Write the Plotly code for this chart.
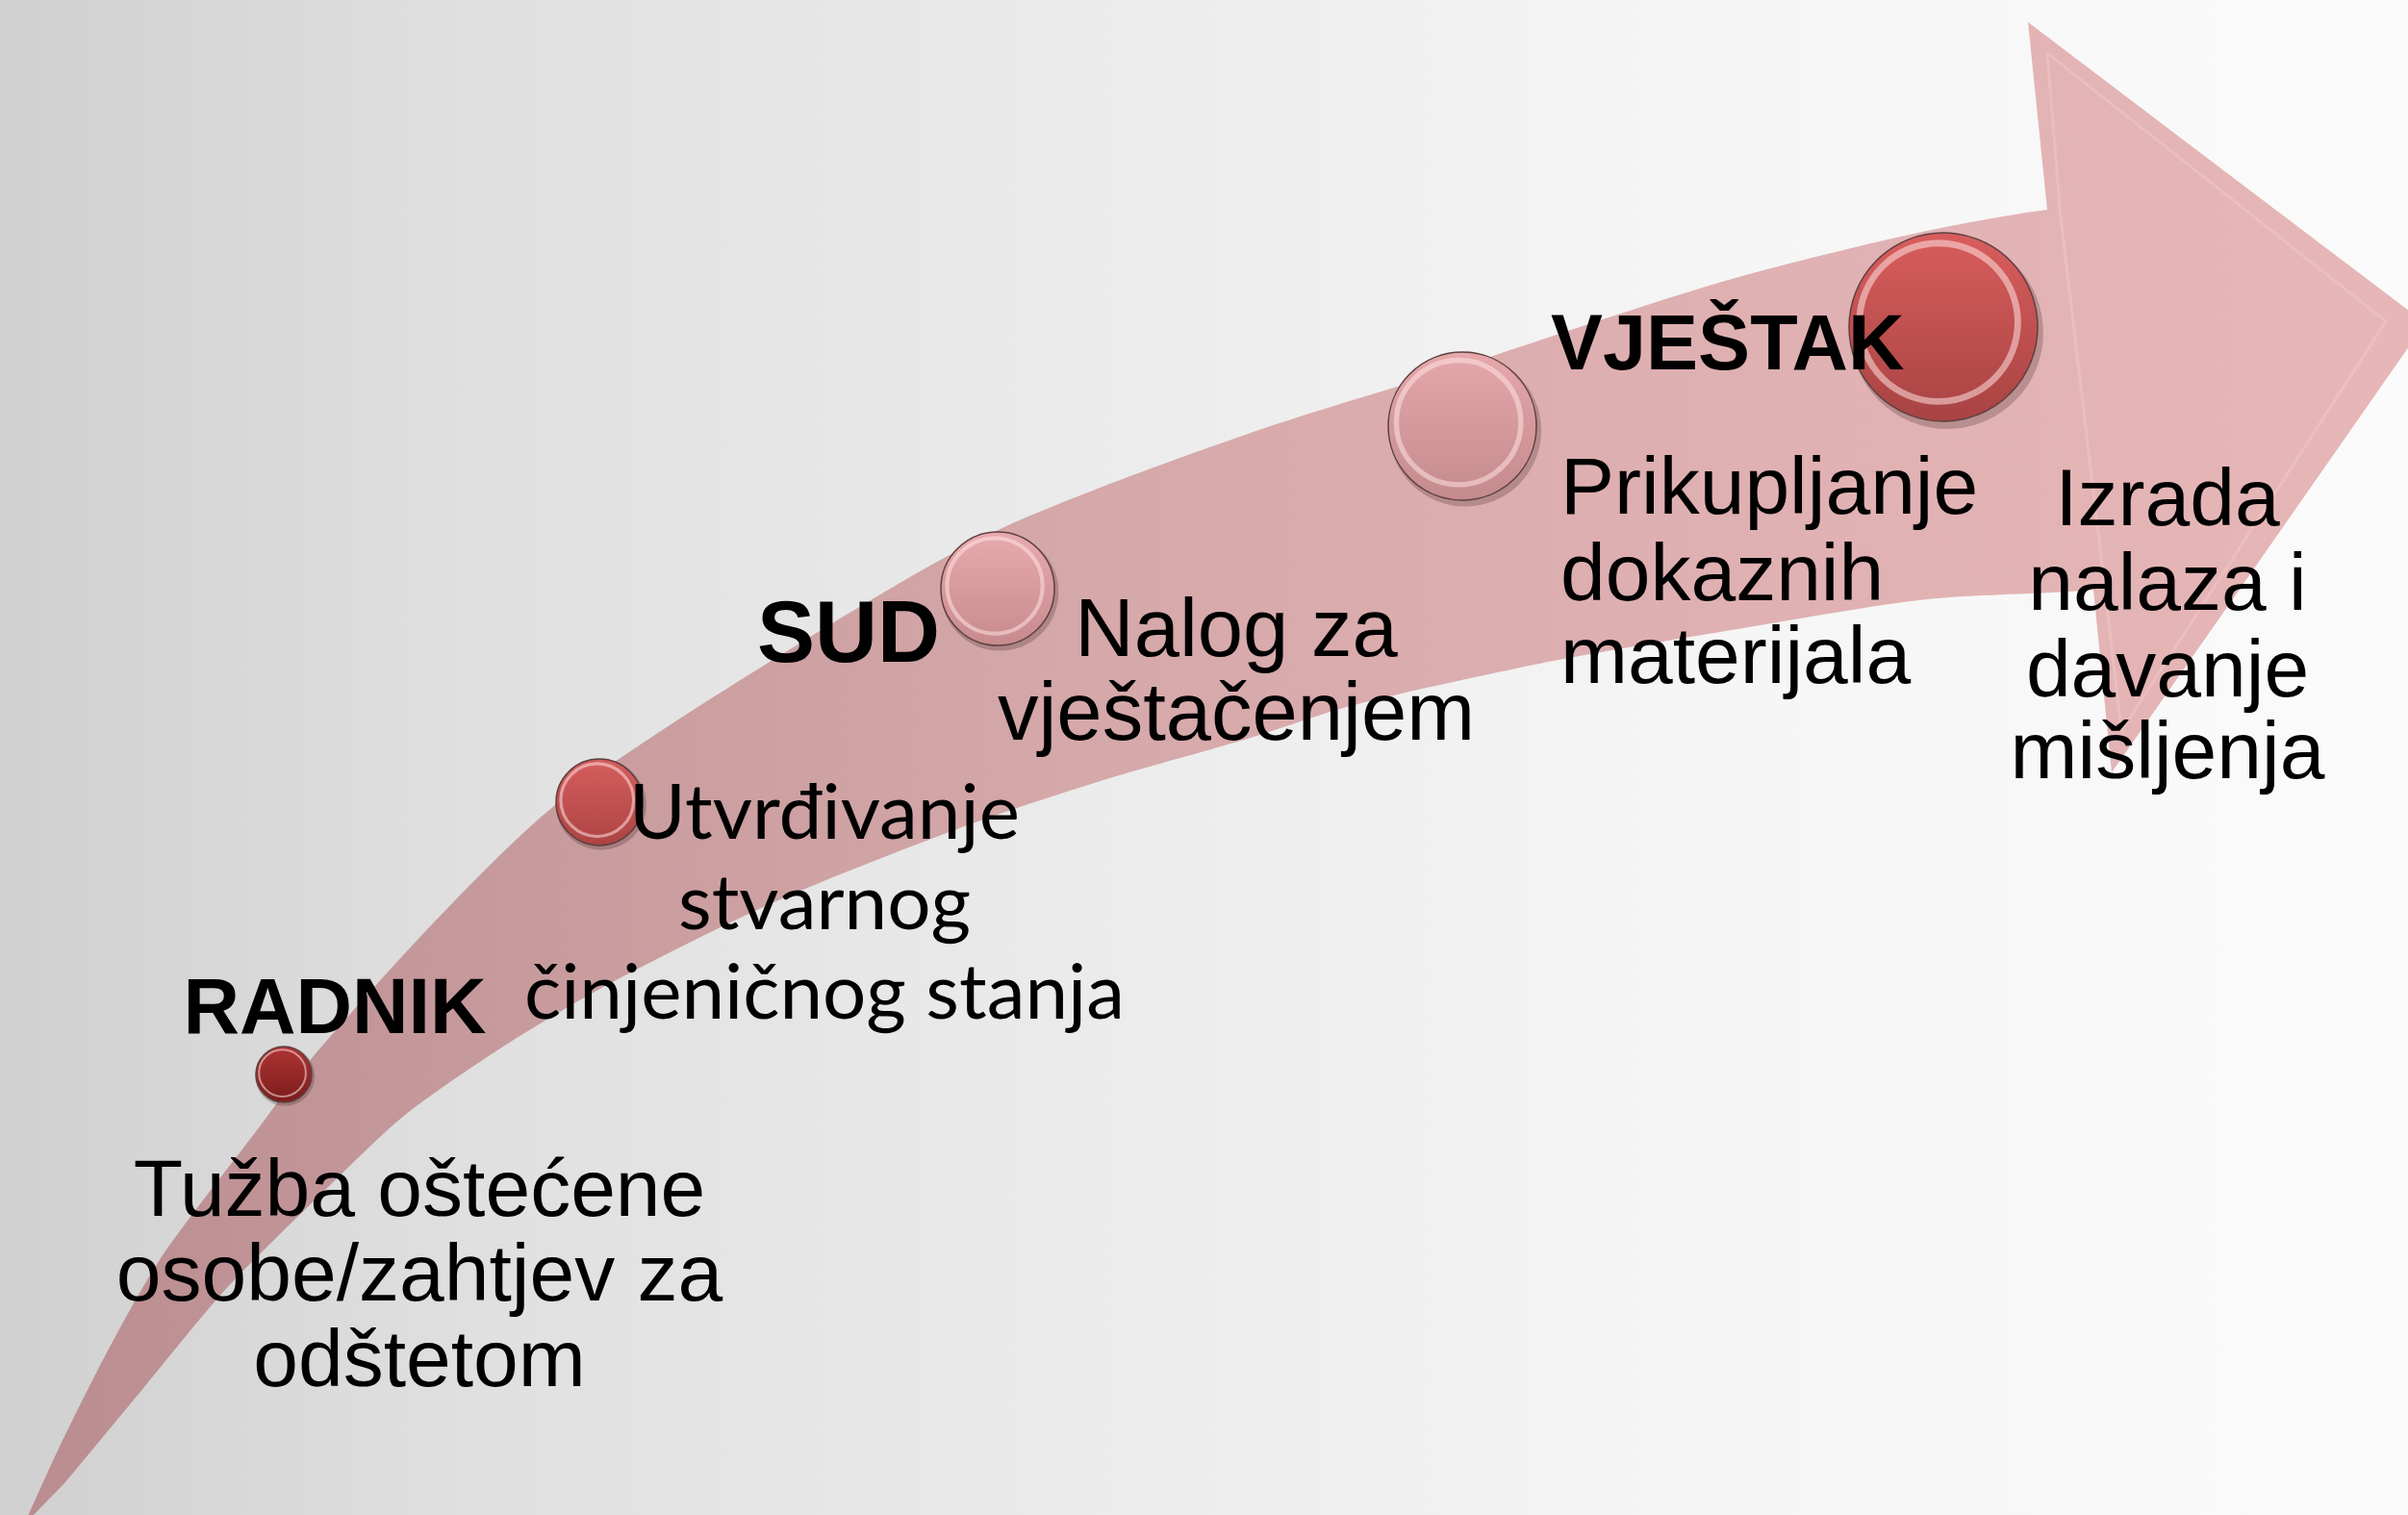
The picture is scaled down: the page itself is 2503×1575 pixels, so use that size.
import plotly.graph_objects as go

W, H = 2503, 1575

# ---- arrow outline (pixel space, y grows downward) ----
band_upper_x = [25, 60, 110, 167, 267, 320, 450, 577, 800, 1033, 1300, 1500, 1800, 2003, 2128, 2290]
band_upper_y = [1585, 1508, 1408, 1308, 1175, 1105, 960, 837, 688, 553, 450, 387, 290, 240, 218, 205]
band_lower_x = [25, 67, 150, 233, 333, 420, 520, 620, 800, 1000, 1150, 1300, 1400, 1600, 1800, 2003, 2176, 2290]
band_lower_y = [1585, 1542, 1442, 1342, 1242, 1160, 1090, 1030, 940, 860, 810, 767, 735, 690, 655, 623, 613, 595]
head_x = [2128, 2108, 2521, 2195, 2176]
head_y = [218, 23, 336, 803, 613]
bevel_x = [2142, 2128, 2480, 2205, 2188, 2142]
bevel_y = [226, 55, 334, 760, 612, 226]

# ---- step buttons ----
btn_x = [295, 623, 1037, 1520, 2020]
btn_y = [1117, 834, 612, 443, 340]
btn_r = [29, 45, 59, 77, 98]
btn_top = ['#b03434', '#d65e5e', '#e8aaac', '#e6a8aa', '#d95d5d']
btn_bottom = ['#7a1c1c', '#ad4343', '#c78b8d', '#c48a8c', '#a84343']

# ---- texts ----
actor_text = ['RADNIK', 'SUD', 'VJEŠTAK']
step1_text = ['Tužba oštećene', 'osobe/zahtjev za', 'odštetom']
step2_text = ['Utvrđivanje', 'stvarnog', 'činjeničnog stanja']
step3_text = ['Nalog za', 'vještačenjem']
step4_text = ['Prikupljanje', 'dokaznih', 'materijala']
step5_text = ['Izrada', 'nalaza i', 'davanje', 'mišljenja']

fig = go.Figure()

# background
fig.add_trace(go.Scatter(
    x=[-10, W + 10, W + 10, -10], y=[-10, -10, H + 10, H + 10],
    mode='lines', fill='toself', line=dict(width=0), hoverinfo='skip',
    fillgradient=dict(type='horizontal', start=0, stop=W,
                      colorscale=[[0, '#d0d0d0'], [0.2, '#e0e0e0'], [0.45, '#ebebeb'],
                                  [0.7, '#f5f5f5'], [1, '#fbfbfb']])))

band_grad = dict(type='horizontal', start=0, stop=2500,
                 colorscale=[[0, '#b98c8f'], [0.2, '#c69a9c'], [0.45, '#d5a8a9'],
                             [0.7, '#dfb0b1'], [1, '#e7b7b8']])

bx = band_upper_x + band_lower_x[::-1][:-1]
by = band_upper_y + band_lower_y[::-1][:-1]
fig.add_trace(go.Scatter(x=bx, y=by, mode='lines', fill='toself',
                         line=dict(width=0, shape='spline', smoothing=0.8),
                         fillgradient=band_grad, hoverinfo='skip'))
fig.add_trace(go.Scatter(x=head_x, y=head_y, mode='lines', fill='toself', line=dict(width=0),
                         fillgradient=band_grad, hoverinfo='skip'))
fig.add_trace(go.Scatter(x=bevel_x, y=bevel_y, mode='lines', hoverinfo='skip',
                         line=dict(width=3, color='rgba(240,196,197,0.6)')))

# buttons
for x, y, r, ct, cb in zip(btn_x, btn_y, btn_r, btn_top, btn_bottom):
    fig.add_trace(go.Scatter(x=[x + r * 0.04], y=[y + r * 0.06], mode='markers', hoverinfo='skip',
                             marker=dict(size=2 * r + 4, color='rgba(60,30,30,0.25)', line=dict(width=0))))
    fig.add_trace(go.Scatter(x=[x], y=[y], mode='markers', hoverinfo='skip',
                             marker=dict(size=2 * r, color=ct, gradient=dict(type='vertical', color=cb),
                                         line=dict(width=1.5, color='#5e4040'))))
    fig.add_trace(go.Scatter(x=[x - r * 0.05], y=[y - r * 0.05], mode='markers', hoverinfo='skip',
                             marker=dict(size=2 * r * 0.84, symbol='circle-open', color='rgba(255,225,225,0.55)',
                                         line=dict(width=max(2, r * 0.07), color='rgba(255,225,225,0.55)'))))

ARIAL = 'Liberation Sans, Arial, sans-serif'
CALI = 'Lato, Carlito, Calibri, sans-serif'


def add_lines(texts, x, baselines, size, family, pos='middle center', weight='normal'):
    fig.add_trace(go.Scatter(
        x=[x] * len(texts), y=[b - 0.35 * size + 7 for b in baselines], text=texts,
        mode='text', textposition=pos, hoverinfo='skip',
        textfont=dict(family=family, size=size, color='#000000', weight=weight)))


add_lines([actor_text[0]], 348, [1075], 81, ARIAL, weight='bold')
add_lines([actor_text[1]], 882, [690], 90, ARIAL, weight='bold')
add_lines([actor_text[2]], 1612, [385], 81, ARIAL, pos='middle right', weight='bold')
add_lines(step1_text, 436, [1265, 1353, 1442], 84, ARIAL)
add_lines(step2_text, 857, [873, 967, 1060], 80, CALI)
add_lines(step3_text, 1285, [683, 770], 85, ARIAL)
add_lines(step4_text, 1622, [535, 625, 711], 84, ARIAL, pos='middle right')
add_lines(step5_text, 2253, [547, 635, 725, 810], 84, ARIAL)

fig.update_layout(
    width=W, height=H, margin=dict(l=0, r=0, t=0, b=0),
    showlegend=False, paper_bgcolor='#f0f0f0', plot_bgcolor='#f0f0f0',
    xaxis=dict(range=[0, W], visible=False, fixedrange=True),
    yaxis=dict(range=[H, 0], visible=False, fixedrange=True),
)

fig.write_html('out.html', config={'displayModeBar': False},
               post_script="document.body.style.margin='0';document.body.style.overflow='hidden';")
